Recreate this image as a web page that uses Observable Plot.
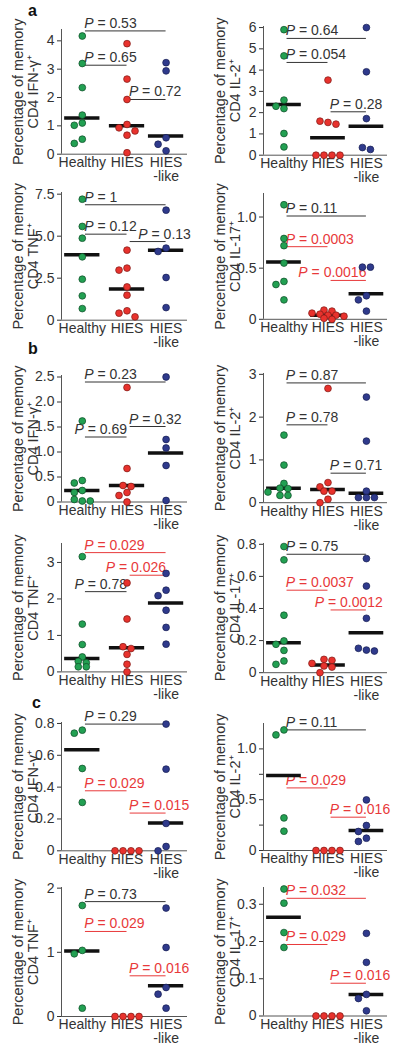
<!DOCTYPE html>
<html><head><meta charset="utf-8">
<script src="https://cdn.jsdelivr.net/npm/d3@7"></script>
<script src="https://cdn.jsdelivr.net/npm/@observablehq/plot@0.6"></script>
<style>
body{margin:0;background:#fff;}
#fig{position:relative;width:400px;height:1049px;font-family:"Liberation Sans",Arial,Helvetica,sans-serif;overflow:hidden;}
.panel{position:absolute;width:200px;}
.panel svg{overflow:visible;}
.letter{position:absolute;font-weight:bold;font-size:16px;line-height:1;color:#111;}
</style></head><body><div id="fig"></div>
<script>
const groups = ["Healthy", "HIES", "HIES\n-like"];

// ---- a ----
const aIFNgHealthy = [4.17, 3.2, 2.35, 1.38, 1.1, 1.02, 0.53, 0.38];
const aIFNgHIES = [3.9, 2.65, 1.93, 1.05, 0.93, 0.82, 0.67, 0.05];
const aIFNgLike = [3.23, 2.94, 0.58, 0.35, 0.12];
const aIFNgMedian = [1.28, 1.0, 0.64];
const aIFNgP = [["0.53", 0, 2, 4.35], ["0.65", 0, 1, 3.14], ["0.72", 1, 2, 1.93]];

const aIL2Healthy = [5.9, 4.67, 2.59, 2.3, 2.19, 1.02, 0.39];
const aIL2HIES = [3.53, 1.6, 1.54, 1.46, 0, 0, 0, 0];
const aIL2Like = [6.0, 3.92, 1.72, 0.36, 0.27];
const aIL2Median = [2.38, 0.82, 1.36];
const aIL2P = [["0.64", 0, 2, 5.49], ["0.054", 0, 1, 4.36], ["0.28", 1, 2, 2.04]];

const aTNFHealthy = [7.2, 5.58, 4.88, 3.77, 2.44, 1.45, 0.69];
const aTNFHIES = [4.17, 3.1, 2.98, 1.98, 1.49, 0.56, 0.42, 0.2];
const aTNFLike = [6.55, 4.29, 4.09, 2.54, 0.75];
const aTNFMedian = [3.89, 1.85, 4.17];
const aTNFP = [["1", 0, 2, 6.87], ["0.12", 0, 1, 5.12], ["0.13", 1, 2, 4.68]];

const aIL17Healthy = [1.12, 0.79, 0.72, 0.55, 0.37, 0.34, 0.19];
const aIL17HIES = [0.09, 0.08, 0.06, 0.05, 0.04, 0.04, 0.03, 0.01, 0];
const aIL17Like = [0.51, 0.51, 0.23, 0.19, 0.08];
const aIL17Median = [0.56, 0.04, 0.25];
const aIL17P = [["0.11", 0, 2, 1.01], ["0.0003", 0, 1, 0.71], ["0.0016", 1, 2, 0.38]];

// ---- b ----
const bIFNgHealthy = [1.62, 0.43, 0.38, 0.23, 0.19, 0.05, 0.02, 0.02];
const bIFNgHIES = [2.29, 0.67, 0.33, 0.31, 0.19, 0.13, 0];
const bIFNgLike = [2.5, 1.25, 1.08, 0.73, 0.03];
const bIFNgMedian = [0.23, 0.33, 0.98];
const bIFNgP = [["0.23", 0, 2, 2.4], ["0.69", 0, 1, 1.3], ["0.32", 1, 2, 1.51]];

const bIL2Healthy = [1.58, 0.88, 0.45, 0.34, 0.33, 0.25, 0.17, 0.17];
const bIL2HIES = [2.67, 0.47, 0.37, 0.27, 0.27, 0.08, 0];
const bIL2Like = [2.47, 1.44, 0.27, 0.12, 0.12, 0.12];
const bIL2Median = [0.34, 0.31, 0.22];
const bIL2P = [["0.87", 0, 2, 2.8], ["0.78", 0, 1, 1.82], ["0.71", 1, 2, 0.69]];

const bTNFHealthy = [3.16, 1.31, 0.75, 0.41, 0.29, 0.25, 0.14, 0.14];
const bTNFHIES = [2.44, 1.45, 0.69, 0.64, 0.48, 0.21, 0];
const bTNFLike = [2.7, 2.24, 2.09, 1.69, 1.22, 0.76];
const bTNFMedian = [0.37, 0.66, 1.89];
const bTNFP = [["0.029", 0, 2, 3.27], ["0.026", 1, 2, 2.65], ["0.78", 0, 1, 2.2]];

const bIL17Healthy = [0.786, 0.703, 0.358, 0.198, 0.177, 0.139, 0.073, 0.052];
const bIL17HIES = [0.083, 0.077, 0.058, 0.042, 0.035, 0];
const bIL17Like = [0.711, 0.54, 0.339, 0.152, 0.141, 0.135];
const bIL17Median = [0.187, 0.048, 0.249];
const bIL17P = [["0.75", 0, 2, 0.738], ["0.0037", 0, 1, 0.514], ["0.0012", 1, 2, 0.391]];

// ---- c ----
const cIFNgHealthy = [0.758, 0.739, 0.517, 0.304];
const cIFNgHIES = [0, 0, 0, 0];
const cIFNgLike = [0.796, 0.513, 0.172, 0.027, 0];
const cIFNgMedian = [0.635, null, 0.174];
const cIFNgP = [["0.29", 0, 2, 0.796], ["0.029", 0, 1, 0.377], ["0.015", 1, 2, 0.237]];

const cIL2Healthy = [1.187, 1.138, 0.321, 0.19];
const cIL2HIES = [0, 0, 0, 0];
const cIL2Like = [0.498, 0.246, 0.187, 0.121, 0.089];
const cIL2Median = [0.738, null, 0.197];
const cIL2P = [["0.11", 0, 2, 1.187], ["0.029", 0, 1, 0.616], ["0.016", 1, 2, 0.328]];

const cTNFHealthy = [1.73, 1.03, 0.977, 0.13];
const cTNFHIES = [0, 0, 0, 0];
const cTNFLike = [1.69, 1.075, 0.452, 0.348, 0.13];
const cTNFMedian = [1.02, null, 0.478];
const cTNFP = [["0.73", 0, 2, 1.79], ["0.029", 0, 1, 1.325], ["0.016", 1, 2, 0.634]];

const cIL17Healthy = [0.341, 0.303, 0.224, 0.184];
const cIL17HIES = [0, 0, 0, 0];
const cIL17Like = [0.222, 0.144, 0.058, 0.047, 0.014];
const cIL17Median = [0.265, null, 0.058];
const cIL17P = [["0.032", 0, 2, 0.316], ["0.029", 0, 1, 0.192], ["0.016", 1, 2, 0.088]];

const yLabels = {
  IFNg: "Percentage of memory\nCD4 IFN-\u03b3\u207a",
  IL2: "Percentage of memory\nCD4 IL-2\u207a",
  TNF: "Percentage of memory\nCD4 TNF\u207a",
  IL17: "Percentage of memory\nCD4 IL-17\u207a"
};

// ---- layout ----
const panels = [
  {m:"IFNg", d:[aIFNgHealthy,aIFNgHIES,aIFNgLike,aIFNgMedian,aIFNgP], col:0, yTop:29.3, y0:154, ymax:4.4, ticks:[0,1,2,3,4], dec:0, align:{}},
  {m:"IL2", d:[aIL2Healthy,aIL2HIES,aIL2Like,aIL2Median,aIL2P], col:1, yTop:26.3, y0:155, ymax:6.05, ticks:[0,1,2,3,4,5,6], dec:0, align:{}},
  {m:"TNF", d:[aTNFHealthy,aTNFHIES,aTNFLike,aTNFMedian,aTNFP], col:0, yTop:191.6, y0:319.3, ymax:7.6, ticks:[0,2.5,5,7.5], dec:1, align:{}, shift:{2:0.075}},
  {m:"IL17", d:[aIL17Healthy,aIL17HIES,aIL17Like,aIL17Median,aIL17P], col:1, yTop:192.5, y0:318.3, ymax:1.23, ticks:[0,0.5,1], dec:1, align:{2:"end"}},
  {m:"IFNg", d:[bIFNgHealthy,bIFNgHIES,bIFNgLike,bIFNgMedian,bIFNgP], col:0, yTop:375.2, y0:501.7, ymax:2.53, ticks:[0,0.5,1,1.5,2,2.5], dec:1, align:{1:"end"}},
  {m:"IL2", d:[bIL2Healthy,bIL2HIES,bIL2Like,bIL2Median,bIL2P], col:1, yTop:372.5, y0:501.7, ymax:3.02, ticks:[0,1,2,3], dec:0, align:{}},
  {m:"TNF", d:[bTNFHealthy,bTNFHIES,bTNFLike,bTNFMedian,bTNFP], col:0, yTop:543.3, y0:671.7, ymax:3.52, ticks:[0,1,2,3], dec:0, align:{1:"end",2:"end"}},
  {m:"IL17", d:[bIL17Healthy,bIL17HIES,bIL17Like,bIL17Median,bIL17P], col:1, yTop:542.5, y0:671.7, ymax:0.805, ticks:[0,0.2,0.4,0.6,0.8], dec:1, align:{2:"middle"}},
  {m:"IFNg", d:[cIFNgHealthy,cIFNgHIES,cIFNgLike,cIFNgMedian,cIFNgP], col:0, yTop:721.7, y0:850, ymax:0.806, ticks:[0,0.2,0.4,0.6,0.8], dec:1, align:{}},
  {m:"IL2", d:[cIL2Healthy,cIL2HIES,cIL2Like,cIL2Median,cIL2P], col:1, yTop:723, y0:850, ymax:1.25, ticks:[0,0.5,1], minor:[0.25,0.75], dec:1, align:{}},
  {m:"TNF", d:[cTNFHealthy,cTNFHIES,cTNFLike,cTNFMedian,cTNFP], col:0, yTop:886.7, y0:1015.7, ymax:2.01, ticks:[0,1,2], dec:0, align:{}},
  {m:"IL17", d:[cIL17Healthy,cIL17HIES,cIL17Like,cIL17Median,cIL17P], col:1, yTop:886.5, y0:1015, ymax:0.345, ticks:[0,0.1,0.2,0.3], dec:1, align:{}}
];
const letters = [["a", 28, 3], ["b", 28, 341], ["c", 32, 695]];

const colLeft = [0, 200];
const mLeft = [61, 63], mRight = 13, mTop = 22, mBottom = 40;
const groupX = [0.165, 0.52, 0.83];
const fills = ["#22a052", "#e8322d", "#2f3a8c"];
const strokes = ["#0f4a26", "#7d1a16", "#161c50"];
const sigColor = "#e8393a", nsColor = "#333";
const axisColor = "#555";
const FONT = "'Liberation Sans', Arial, Helvetica, sans-serif";

function spread(values, pxPerUnit, frameW, g) {
  const step = 8, minDist = 7;
  const idx = d3.range(values.length).sort((a, b) => values[b] - values[a]);
  const rows = [];
  for (const i of idx) {
    const last = rows[rows.length - 1];
    if (last && (values[last[last.length - 1]] - values[i]) * pxPerUnit < 2) last.push(i);
    else rows.push([i]);
  }
  const out = new Array(values.length);
  const placed = [];
  const cands = [0, -1, 1, -2, 2, -3, 3];
  for (const row of rows) {
    if (row.length > 1) {
      row.forEach((i, k) => {
        out[i] = (k - (row.length - 1) / 2) * step;
        placed.push({py: values[i] * pxPerUnit, off: out[i]});
      });
    } else {
      const i = row[0];
      const py = values[i] * pxPerUnit;
      out[i] = 0;
      for (const c of cands) {
        const off = c * step;
        if (placed.every(p => Math.hypot(p.off - off, p.py - py) >= minDist)) { out[i] = off; break; }
      }
      placed.push({py, off: out[i]});
    }
  }
  return values.map((v, i) => ({x: groupX[g] + out[i] / frameW, v}));
}

const fig = document.getElementById("fig");
for (const [t, left, top] of letters) {
  const el = document.createElement("div");
  el.className = "letter"; el.textContent = t;
  el.style.left = left + "px"; el.style.top = top + "px";
  fig.appendChild(el);
}

for (const p of panels) {
  const ml = mLeft[p.col];
  const frameW = 200 - ml - mRight;
  const innerH = p.y0 - p.yTop;
  const pxPerUnit = innerH / p.ymax;
  const [hv, iv, lv, med, pv] = p.d;
  const shift = p.shift || {};
  const fmt = v => v === 0 ? "0" : v.toFixed(p.dec);
  const marks = [
    Plot.ruleX([0], {y1: 0, y2: p.ymax, stroke: axisColor, strokeWidth: 1}),
    Plot.ruleY([0], {stroke: axisColor, strokeWidth: 1}),
    Plot.axisY(p.ticks, {tickFormat: fmt, tickSize: 4, tickPadding: 3, fontSize: 14, color: "#333", label: null}),
    Plot.text(groups, {x: (d, i) => groupX[i], frameAnchor: "bottom", lineAnchor: "top", dy: 3, fontSize: 14, fill: "#333", lineHeight: 1.0}),
    Plot.text([yLabels[p.m]], {frameAnchor: "left", rotate: -90, dx: -36, fontSize: 14.5, fill: "#333", lineHeight: 1.05, textAnchor: "middle", lineAnchor: "middle"})
  ];
  if (p.minor) marks.push(Plot.axisY(p.minor, {tickFormat: () => "", tickSize: 4, color: "#333", label: null}));
  const bx1 = d => groupX[d[1]] + 0.025;
  const bx2 = d => groupX[d[2]];
  const isSig = d => +d[0] < 0.05;
  for (const sig of [false, true]) {
    const col = sig ? sigColor : nsColor;
    const rows = pv.map((d, k) => ({d, k})).filter(o => isSig(o.d) === sig);
    marks.push(Plot.ruleY(rows, {x1: o => bx1(o.d), x2: o => bx2(o.d), y: o => o.d[3], stroke: col, strokeWidth: 1}));
    for (const anchor of ["start", "end", "middle"]) {
      const sub = rows.filter(o => (p.align[o.k] || "start") === anchor);
      if (!sub.length) continue;
      const base = anchor === "start" ? (o => bx1(o.d) - 0.01) : anchor === "end" ? (o => bx2(o.d)) : (o => (bx1(o.d) + bx2(o.d)) / 2);
      const xf = o => base(o) + (shift[o.k] || 0);
      marks.push(Plot.text(sub, {x: xf, y: o => o.d[3], text: o => "P = " + o.d[0], textAnchor: anchor, lineAnchor: "bottom", dy: -3, fontSize: 14, fill: col}));
    }
  }
  const medRows = med.map((m, g) => ({g, m})).filter(o => o.m != null);
  marks.push(Plot.ruleY(medRows, {x1: o => groupX[o.g] - 0.14, x2: o => groupX[o.g] + 0.14, y: "m", stroke: "#111", strokeWidth: 3.5}));
  [hv, iv, lv].forEach((vals, g) => {
    marks.push(Plot.dot(spread(vals, pxPerUnit, frameW, g), {x: "x", y: "v", r: 3.4, fill: fills[g], stroke: strokes[g], strokeWidth: 0.7}));
  });
  const svg = Plot.plot({
    width: 200, height: innerH + mTop + mBottom,
    marginLeft: ml, marginRight: mRight, marginTop: mTop, marginBottom: mBottom,
    x: {domain: [0, 1], axis: null},
    y: {domain: [0, p.ymax], axis: null},
    style: {background: "transparent", fontFamily: FONT, overflow: "visible"},
    marks
  });
  const ns = "http://www.w3.org/2000/svg";
  svg.querySelectorAll("text").forEach(t => {
    const s = t.textContent;
    if (!s.startsWith("P = ") || t.children.length) return;
    t.textContent = "";
    const a = document.createElementNS(ns, "tspan");
    a.setAttribute("font-style", "italic"); a.textContent = s.slice(0, 1);
    const b = document.createElementNS(ns, "tspan");
    b.textContent = s.slice(1);
    t.appendChild(a); t.appendChild(b);
  });
  const div = document.createElement("div");
  div.className = "panel";
  div.style.left = colLeft[p.col] + "px";
  div.style.top = (p.yTop - mTop) + "px";
  div.appendChild(svg);
  fig.appendChild(div);
}
</script>
</body></html>
